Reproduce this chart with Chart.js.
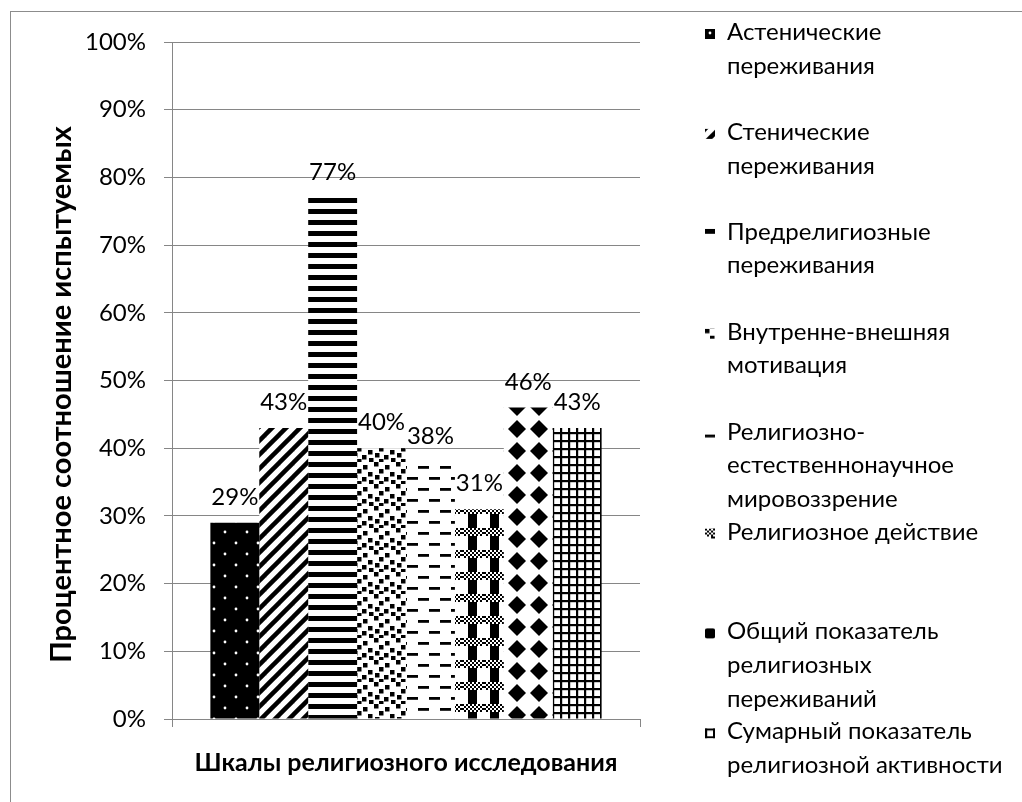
<!DOCTYPE html>
<html>
<head>
<meta charset="utf-8">
<script src="https://cdn.jsdelivr.net/npm/chart.js@4.4.0/dist/chart.umd.min.js"></script>
<style>
    html, body { margin: 0; padding: 0; background: #fff; overflow: hidden; }
    #frame { position: absolute; left: 10px; top: 11px; width: 1100px; height: 900px; border: 1px solid #8c8c8c; }
    #wrap { position: absolute; left: 0; top: 0; width: 1022px; height: 802px; }
</style>
</head>
<body>
<div id="frame"></div>
<div id="wrap"><canvas id="chart"></canvas></div>
<script>
// Chart data
const categories = [''];
const seriesNames = [
    ['Астенические', 'переживания'],
    ['Стенические', 'переживания'],
    ['Предрелигиозные', 'переживания'],
    ['Внутренне-внешняя', 'мотивация'],
    ['Религиозно-', 'естественнонаучное', 'мировоззрение'],
    ['Религиозное действие'],
    ['Общий показатель', 'религиозных', 'переживаний'],
    ['Сумарный показатель', 'религиозной активности']
];
const seriesValues = [29, 43, 77, 40, 38, 31, 46, 43];
const yTickStep = 10;
const yMax = 100;
const xTitle = 'Шкалы религиозного исследования';
const yTitle = 'Процентное соотношение испытуемых';

const FONT = "Lato, 'Open Sans', sans-serif";
const GRID = '#868686';

// Black & white fill patterns
function makeTile(w, h, draw, bg) {
    const c = document.createElement('canvas');
    c.width = w;
    c.height = h;
    const g = c.getContext('2d');
    g.fillStyle = bg || '#fff';
    g.fillRect(0, 0, w, h);
    g.fillStyle = '#000';
    g.strokeStyle = '#000';
    draw(g, w, h);
    return c;
}

const tiles = [
    // dots on black
    makeTile(22, 22, g => {
        g.fillStyle = '#fff';
        g.beginPath(); g.arc(5, 4, 1.4, 0, Math.PI * 2); g.fill();
        g.beginPath(); g.arc(16, 15, 1.4, 0, Math.PI * 2); g.fill();
    }, '#000'),
    // wide upward diagonal
    makeTile(14, 14, g => {
        g.lineWidth = 4.5;
        [[0, 14, 14, 0], [-7, 7, 7, -7], [7, 21, 21, 7]].forEach(([a, b, c, d]) => {
            g.beginPath(); g.moveTo(a, b); g.lineTo(c, d); g.stroke();
        });
    }),
    // horizontal stripes
    makeTile(11, 11, g => g.fillRect(0, 0, 11, 5)),
    // confetti squares
    makeTile(22, 22, g => {
        [[0, 0], [11, 3], [5, 7], [16, 10], [1, 13], [10, 15], [17, 18], [5, 19]]
            .forEach(([x, y]) => g.fillRect(x, y, 4.5, 4.5));
    }),
    // dashed horizontal
    makeTile(22, 22, g => {
        g.fillRect(0, 4, 11, 2.8);
        g.fillRect(11, 15, 11, 2.8);
    }),
    // vertical bars with checker bands
    makeTile(22, 22, g => {
        g.fillRect(6, 0, 9, 22);
        g.fillStyle = '#fff';
        g.fillRect(0, 0, 22, 8);
        g.fillStyle = '#000';
        for (let y = 0; y < 8; y += 2) {
            for (let x = 0; x < 22; x += 2) {
                if (((x + y) / 2) % 2 === 0) g.fillRect(x, y, 2, 2);
            }
        }
    }),
    // diamonds
    makeTile(22, 22, g => {
        g.beginPath();
        g.moveTo(11, 2); g.lineTo(20, 11); g.lineTo(11, 20); g.lineTo(2, 11);
        g.closePath(); g.fill();
    }),
    // small grid
    makeTile(8, 8, g => {
        g.fillRect(0, 0, 8, 2.2);
        g.fillRect(0, 0, 2.2, 8);
    })
];

const canvas = document.getElementById('chart');
const ctx = canvas.getContext('2d');
const patterns = tiles.map(t => ctx.createPattern(t, 'repeat'));
// swatch offsets so each small legend box shows a recognisable piece
const swatchOffsets = [[0, 0], [0, 0], [0, 0], [0, 0], [0, -2], [0, 0], [6, 6], [0, 0]];

const datasets = seriesNames.map((name, i) => ({
    label: name.join(' '),
    data: [seriesValues[i]],
    backgroundColor: patterns[i],
    borderWidth: 0
}));

// value labels above bars
const valueLabels = {
    id: 'valueLabels',
    afterDatasetsDraw(chart) {
        const c = chart.ctx;
        c.save();
        c.font = `24px ${FONT}`;
        c.fillStyle = '#000';
        c.textAlign = 'center';
        c.textBaseline = 'alphabetic';
        chart.data.datasets.forEach((ds, i) => {
            const bar = chart.getDatasetMeta(i).data[0];
            c.fillText(ds.data[0] + '%', bar.x, bar.y - 18);
        });
        c.restore();
    }
};

// y title, rotated, a bit below the plot middle as in the original
const yAxisTitle = {
    id: 'yAxisTitle',
    afterDraw(chart) {
        const c = chart.ctx;
        const area = chart.chartArea;
        c.save();
        c.translate(62, (area.top + area.bottom) / 2 + 14);
        c.rotate(-Math.PI / 2);
        c.font = `bold 29px ${FONT}`;
        c.fillStyle = '#000';
        c.textAlign = 'center';
        c.textBaseline = 'middle';
        c.fillText(yTitle, 0, 0);
        c.restore();
    }
};

// legend on the right, wrapped as in the original
const sideLegend = {
    id: 'sideLegend',
    afterDraw(chart) {
        const c = chart.ctx;
        c.save();
        c.font = `24px ${FONT}`;
        c.textAlign = 'left';
        c.textBaseline = 'alphabetic';
        seriesNames.forEach((lines, i) => {
            const base = 40 + i * 99.9;
            const sx = 705, sy = base - 11;
            const p = ctx.createPattern(tiles[i], 'repeat');
            const [ox, oy] = swatchOffsets[i];
            p.setTransform(new DOMMatrix().translate(sx - ox, sy - oy));
            c.fillStyle = p;
            c.fillRect(sx, sy, 10, 10);
            c.fillStyle = '#000';
            lines.forEach((line, j) => c.fillText(line, 727, base + j * 33.6));
        });
        c.restore();
    }
};

new Chart(ctx, {
    type: 'bar',
    data: { labels: categories, datasets },
    options: {
        responsive: true,
        maintainAspectRatio: false,
        animation: false,
        layout: { padding: { top: 42, right: 382, left: 0, bottom: 0 } },
        datasets: { bar: { categoryPercentage: 0.836, barPercentage: 1 } },
        plugins: { legend: { display: false }, tooltip: { enabled: false } },
        scales: {
            x: {
                grid: { display: true, drawOnChartArea: false, tickLength: 8, color: GRID, offset: true },
                border: { color: GRID },
                ticks: { display: false },
                title: {
                    display: true,
                    text: xTitle,
                    color: '#000',
                    font: { family: FONT, size: 25, weight: 'bold' },
                    padding: { top: 0, bottom: 24 }
                },
                afterFit(scale) { scale.height = 83; }
            },
            y: {
                min: 0,
                max: yMax,
                grid: { color: GRID, tickLength: 8 },
                border: { color: GRID },
                ticks: {
                    stepSize: yTickStep,
                    color: '#000',
                    padding: 18,
                    font: { family: FONT, size: 24 },
                    callback: v => v + '%'
                },
                afterFit(scale) { scale.width = 172; }
            }
        }
    },
    plugins: [valueLabels, yAxisTitle, sideLegend]
});
</script>
</body>
</html>
